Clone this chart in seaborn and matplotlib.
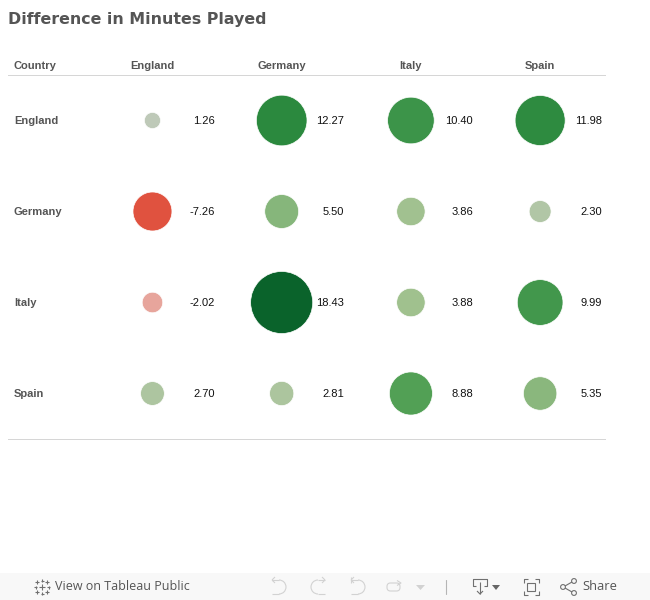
"""Difference in minutes played between countries, as a circle table."""
import numpy as np
import pandas as pd
import matplotlib
matplotlib.use("Agg")
import matplotlib.pyplot as plt
from matplotlib.colors import LinearSegmentedColormap, Normalize
from matplotlib.patches import Arc, Circle, FancyBboxPatch, Rectangle
from matplotlib.transforms import blended_transform_factory
import seaborn as sns

countries = ["England", "Germany", "Italy", "Spain"]
england_row = [1.26, 12.27, 10.40, 11.98]
germany_row = [-7.26, 5.50, 3.86, 2.30]
italy_row = [-2.02, 18.43, 3.88, 9.99]
spain_row = [2.70, 2.81, 8.88, 5.35]

colour_stops = [
    (-7.26, "#E0523F"), (-2.02, "#E7A59C"), (0.0, "#E2DCD8"), (1.26, "#BCC8B6"),
    (2.70, "#ADC5A0"), (3.86, "#A1C18F"), (5.50, "#87B67B"), (8.88, "#52A055"),
    (10.40, "#3C9449"), (12.27, "#2B893E"), (18.43, "#0A632B"),
]

GREY = "#555555"
W, H = 650, 600

sns.set_theme(style="white")
plt.rcParams["font.family"] = ["Liberation Sans", "DejaVu Sans"]

rows = [england_row, germany_row, italy_row, spain_row]
df = pd.DataFrame(rows, index=pd.Index(countries, name="row"), columns=countries)
df = df.reset_index().melt(id_vars="row", var_name="col", value_name="value")
df["magnitude"] = df["value"].abs()

low, high = colour_stops[0][0], colour_stops[-1][0]
cmap = LinearSegmentedColormap.from_list(
    "minutes", [((v - low) / (high - low), c) for v, c in colour_stops]
)

fig = plt.figure(figsize=(W / 100, H / 100), dpi=100)
ax = fig.add_axes([8 / W, 1 - 439 / H, 597 / W, 364 / H])

sns.scatterplot(
    data=df, x="col", y="row", hue="value", size="magnitude",
    palette=cmap, hue_norm=Normalize(low, high),
    sizes=(0, 2170), size_norm=(0, 20),
    linewidth=0.5, edgecolor="#FFFFFF", alpha=1, legend=False, ax=ax, zorder=2,
)

ax.set_xlim(-1.118, 3.502)
ax.set_ylim(3.5, -0.5)
ax.set_xlabel("")
ax.set_ylabel("")
ax.set_yticks([])
ax.xaxis.tick_top()
ax.set_xticks(range(len(countries)), countries)
ax.tick_params(axis="x", length=0, pad=3.2)
for label in ax.get_xticklabels():
    label.set(fontsize=8, fontweight="bold", color=GREY)
for side in ["left", "right"]:
    ax.spines[side].set_visible(False)
for side in ["top", "bottom"]:
    ax.spines[side].set(color="#D6D6D6", linewidth=0.72)

# row headers and value labels
row_trans = blended_transform_factory(ax.transAxes, ax.transData)
for i, country in enumerate(countries):
    ax.annotate(country, (6 / 597, i), xycoords=row_trans, xytext=(0, -0.4),
                textcoords="offset points", fontsize=8, fontweight="bold",
                color=GREY, ha="left", va="center")
ax.text(6 / 597, 1.0 + 9.4 / 364, "Country", transform=ax.transAxes, fontsize=8,
        fontweight="bold", color=GREY, ha="left", va="center")
for _, r in df.iterrows():
    ax.annotate(f"{r['value']:.2f}", (r["col"], r["row"]), xytext=(44.8, -0.4),
                textcoords="offset points", fontsize=8, color="#111111",
                ha="right", va="center", zorder=3)

# title and toolbar live in a pixel-space overlay
ov = fig.add_axes([0, 0, 1, 1], zorder=5)
ov.set_xlim(0, W)
ov.set_ylim(H, 0)
ov.axis("off")
ov.patch.set_alpha(0)
ov.text(8, 19.5, "Difference in Minutes Played", family="DejaVu Sans",
        fontsize=11.45, fontweight="bold", color=GREY, ha="left", va="center")

ov.add_patch(Rectangle((0, 573), W, 27, color="#F8F8F8", lw=0))
ov.text(55, 587, "View on Tableau Public", family="Open Sans", fontsize=9, color=GREY,
        ha="left", va="center")
ov.text(582, 587, "Share", family="Open Sans", fontsize=9.3, color=GREY, ha="left", va="center")

ICON = dict(color="#707070", lw=0.8, solid_capstyle="butt")
FAINT = dict(color="#D2D2D2", lw=0.8, solid_capstyle="butt")
# tableau cross logo
for cx, cy, s in [(42, 587, 3), (35.5, 587, 1.5), (48.5, 587, 1.5), (42, 580.5, 1.5), (42, 593.5, 1.5),
                  (37, 582, 1.8), (47, 582, 1.8), (37, 592, 1.8), (47, 592, 1.8)]:
    ov.plot([cx - s, cx + s], [cy, cy], **ICON)
    ov.plot([cx, cx], [cy - s, cy + s], **ICON)
# undo / redo / revert
for cx, flip in [(279, 1), (318, -1), (358, 1)]:
    theta = (-90, 90) if flip == 1 else (90, 270)
    ov.add_patch(Arc((cx, 587), 14, 14, theta1=theta[0], theta2=theta[1], color="#D2D2D2", lw=0.8))
    ov.plot([cx - 7 * flip, cx], [580, 580], **FAINT)
    ov.plot([cx - 7 * flip, cx - 4 * flip], [580, 577], **FAINT)
    ov.plot([cx - 7 * flip, cx - 4 * flip], [580, 583], **FAINT)
    ov.plot([cx - 7 * flip, cx], [594, 594], **FAINT)
ov.plot([351, 351], [577, 583], **FAINT)
# refresh
ov.add_patch(FancyBboxPatch((387, 583), 13, 8, boxstyle="round,pad=0,rounding_size=3.5",
                            fill=False, ec="#D2D2D2", lw=0.8))
ov.plot([397, 401, 397], [580.5, 583, 585.5], **FAINT)
ov.fill([416, 425, 420.5], [585, 585, 590], color="#D2D2D2", lw=0)
ov.plot([446, 446], [580, 594], color="#B5B5B5", lw=0.8)
# download
ov.plot([476, 473, 473, 487, 487, 484], [586, 586, 579, 579, 586, 586], **ICON)
ov.plot([480, 480], [582, 594], **ICON)
ov.plot([477, 480, 483], [591, 594, 591], **ICON)
ov.fill([492, 500, 496], [585, 585, 590], color="#666666", lw=0)
# fullscreen
ov.add_patch(Rectangle((527, 583), 8, 8, fill=False, ec="#707070", lw=0.8))
for x0, dx in [(524, 4), (539, -4)]:
    for y0, dy in [(579, 4), (595, -4)]:
        ov.plot([x0 + dx, x0, x0], [y0, y0, y0 + dy], **ICON)
# share
for cx, cy in [(563, 587), (574, 581), (574, 593)]:
    ov.add_patch(Circle((cx, cy), 2.4, fill=False, ec="#707070", lw=0.8))
ov.plot([565, 572], [586, 582], **ICON)
ov.plot([565, 572], [588, 592], **ICON)

fig.savefig("out.png", dpi=100, facecolor="white")
